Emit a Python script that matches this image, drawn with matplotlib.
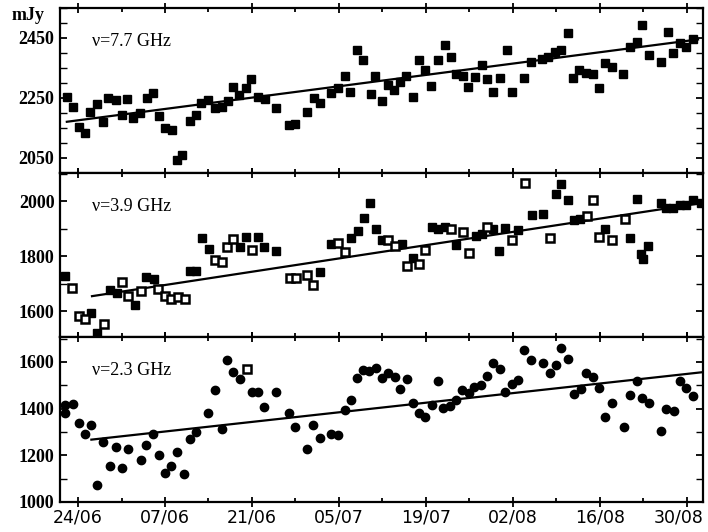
import numpy as np
import matplotlib
matplotlib.use('Agg')
import matplotlib.pyplot as plt
import matplotlib.transforms as mtransforms
from matplotlib.ticker import MultipleLocator

# days counted from 24/06
tick_days = [0, 14, 28, 42, 56, 70, 84, 98]
tick_labels = ['24/06', '07/06', '21/06', '05/07', '19/07', '02/08', '16/08', '30/08']

# 7.7 GHz
top_day = [-1.8, -0.85, 0.16, 1.13, 2.0, 3.1, 4.07, 4.9, 6.1, 7.0, 7.9, 8.9, 10.0, 11.05, 12.0,
           13.1, 14.0, 15.1, 16.0, 16.8, 18.0, 19.0, 19.8, 21.0, 22.0, 23.1, 24.2, 25.0, 25.95,
           27.0, 27.9, 29.0, 30.1, 31.9, 34.0, 34.9, 36.9, 38.0, 38.9, 40.8, 41.9, 43.0, 43.8,
           44.9, 45.9, 47.1, 47.8, 48.9, 49.9, 50.9, 51.8, 52.8, 53.9, 54.9, 55.8, 56.8, 57.9,
           59.0, 60.0, 60.9, 62.0, 62.8, 63.9, 65.0, 65.8, 66.8, 67.9, 69.0, 69.9, 71.8, 72.9,
           74.7, 75.7, 76.7, 77.7, 78.9, 79.7, 80.7, 81.8, 82.9, 83.8, 84.8, 85.9, 87.8, 88.8,
           89.9, 90.8, 91.9, 93.9, 95.0, 95.8, 96.9, 97.9, 99.0]
top_flux = [2254, 2221, 2154, 2132, 2201, 2230, 2168, 2249, 2243, 2193, 2246, 2182, 2199, 2249, 2266,
            2188, 2149, 2143, 2043, 2060, 2171, 2193, 2232, 2243, 2216, 2221, 2238, 2286, 2260,
            2282, 2312, 2252, 2246, 2216, 2160, 2162, 2204, 2249, 2232, 2266, 2282, 2323, 2271,
            2410, 2377, 2263, 2323, 2238, 2293, 2277, 2304, 2323, 2254, 2377, 2343, 2290, 2377,
            2427, 2388, 2330, 2323, 2286, 2319, 2360, 2312, 2271, 2316, 2410, 2271, 2316, 2371,
            2379, 2386, 2404, 2410, 2466, 2316, 2343, 2334, 2330, 2282, 2366, 2354, 2330, 2421,
            2438, 2493, 2393, 2371, 2471, 2401, 2434, 2421, 2446]
top_fit_day = [-1.8, 99.8]
top_fit_flux = [2170, 2445]

# 3.9 GHz
mid_day = [-2.04, 2.15, 3.1, 5.1, 6.2, 9.1, 11.0, 12.2, 18.1, 19.0, 19.95, 21.1, 26.0, 27.0, 29.0,
           30.0, 31.8, 38.9, 40.8, 43.9, 45.0, 46.0, 47.0, 47.9, 49.0, 52.1, 53.9, 56.9, 58.0,
           59.1, 60.9, 64.0, 65.0, 66.8, 67.7, 68.8, 70.9, 73.0, 74.9, 76.9, 77.8, 78.9, 79.9,
           80.8, 84.9, 88.8, 89.9, 90.7, 91.0, 91.8, 93.9, 94.7, 95.8, 96.9, 97.9, 99.0, 100.3]
mid_flux = [1728, 1595, 1520, 1677, 1665, 1622, 1726, 1716, 1747, 1747, 1868, 1828, 1835, 1870, 1870,
            1835, 1821, 1743, 1844, 1868, 1892, 1941, 1993, 1901, 1858, 1844, 1795, 1908, 1901,
            1908, 1840, 1874, 1880, 1898, 1819, 1904, 1896, 1950, 1955, 2028, 2065, 2004, 1932,
            1937, 1898, 1868, 2010, 1810, 1790, 1837, 1995, 1977, 1975, 1989, 1989, 2007, 1995]
mid_open_day = [-0.97, 0.1, 1.07, 4.2, 7.1, 8.0, 10.1, 12.9, 13.95, 15.0, 16.1, 17.2, 22.0, 23.1,
                24.0, 24.9, 28.05, 34.1, 35.1, 36.9, 37.9, 41.9, 43.0, 49.9, 51.0, 52.9, 54.9,
                55.9, 60.0, 61.9, 63.0, 65.9, 69.9, 71.9, 75.95, 81.9, 82.95, 83.9, 85.9, 88.0]
mid_open_flux = [1684, 1583, 1573, 1553, 1707, 1656, 1674, 1680, 1656, 1644, 1652, 1644, 1787, 1779,
                 1835, 1864, 1823, 1722, 1722, 1731, 1696, 1850, 1816, 1858, 1837, 1765, 1771,
                 1825, 1898, 1888, 1811, 1908, 1859, 2068, 1868, 1947, 2007, 1870, 1858, 1935]
mid_fit_day = [2.25, 100.6]
mid_fit_flux = [1655, 1995]

# 2.3 GHz
low_day = [-2.04, -2.1, -0.8, 0.1, 1.07, 2.04, 3.1, 4.1, 5.1, 6.07, 7.08, 8.05, 10.1, 11.0, 12.1,
           13.0, 13.95, 15.0, 16.0, 17.05, 18.0, 19.0, 21.0, 22.0, 23.1, 24.0, 24.9, 26.0, 28.0,
           29.0, 30.0, 31.9, 34.0, 34.9, 36.9, 37.9, 38.96, 40.8, 41.9, 43.0, 43.9, 44.9, 45.9,
           46.9, 48.0, 49.0, 49.9, 51.0, 51.9, 52.9, 54.0, 54.9, 55.8, 56.9, 58.0, 58.8, 59.9,
           60.9, 61.8, 62.9, 63.7, 64.8, 65.8, 66.8, 67.9, 68.8, 69.8, 70.9, 71.8, 72.9, 74.9,
           75.95, 76.9, 77.8, 78.9, 79.9, 80.9, 81.8, 82.9, 83.9, 84.8, 85.9, 87.9, 88.8, 89.9,
           90.8, 91.9, 93.9, 94.7, 95.9, 96.9, 97.9, 99.0]
low_flux = [1416, 1382, 1419, 1338, 1291, 1328, 1074, 1257, 1155, 1235, 1146, 1227, 1181, 1245, 1291,
            1203, 1124, 1153, 1214, 1120, 1271, 1298, 1381, 1480, 1312, 1606, 1556, 1526, 1473,
            1470, 1405, 1473, 1381, 1319, 1228, 1328, 1274, 1292, 1288, 1395, 1438, 1530, 1566,
            1562, 1573, 1533, 1552, 1537, 1485, 1526, 1423, 1381, 1366, 1416, 1520, 1402, 1409,
            1438, 1480, 1466, 1494, 1499, 1541, 1594, 1570, 1470, 1505, 1523, 1651, 1606, 1594,
            1552, 1587, 1658, 1611, 1462, 1483, 1552, 1537, 1490, 1362, 1424, 1319, 1459, 1520,
            1445, 1424, 1305, 1399, 1391, 1516, 1490, 1452]
low_open_day = [27.2]
low_open_flux = [1570]
low_fit_day = [2.15, 100.6]
low_fit_flux = [1267, 1556]

fig = plt.figure(figsize=(7.08, 5.32), dpi=100)
gs = fig.add_gridspec(3, 1, left=60/708, right=703/708, top=1-8/532, bottom=1-502/532, hspace=0)
axes = [fig.add_subplot(gs[i]) for i in range(3)]

serif = 'Liberation Serif'

def style(ax, ylim, major, minor, labels_on):
    ax.set_xlim(-2.9, 100.6)
    ax.set_ylim(*ylim)
    ax.set_xticks(tick_days)
    ax.xaxis.set_minor_locator(MultipleLocator(7))
    ax.yaxis.set_major_locator(MultipleLocator(major))
    ax.yaxis.set_minor_locator(MultipleLocator(minor))
    ax.tick_params(axis='x', which='major', direction='inout', length=7, width=1.3,
                   top=True, bottom=True, labelsize=12.5, pad=1)
    ax.tick_params(axis='x', which='minor', direction='in', length=3, width=1.3, top=True, bottom=True)
    ax.tick_params(axis='y', which='major', direction='in', length=5, width=1.3,
                   left=True, right=True, labelsize=13, pad=4)
    ax.tick_params(axis='y', which='minor', direction='in', length=5, width=1.0, left=True, right=True)
    for lab in ax.get_yticklabels():
        lab.set_fontfamily(serif)
        lab.set_fontweight('bold')
    if labels_on:
        ax.set_xticklabels(tick_labels)
    else:
        ax.set_xticklabels([])
    for s in ax.spines.values():
        s.set_linewidth(1.6)

ax = axes[0]
ax.plot(top_day, top_flux, 's', color='black', markersize=5.5, zorder=3)
ax.plot(top_fit_day, top_fit_flux, '-', color='black', linewidth=1.6)
style(ax, (2000, 2550), 200, 50, False)
ax.set_yticks([2050, 2250, 2450])
for lab in ax.get_yticklabels():
    lab.set_fontfamily(serif)
    lab.set_fontweight('bold')
ax.text(0.05, 0.77, '\u03bd=7.7 GHz', transform=ax.transAxes, family=serif, fontsize=13)

ax = axes[1]
ax.plot(mid_day, mid_flux, 's', color='black', markersize=5.5, zorder=3)
ax.plot(mid_open_day, mid_open_flux, 's', markerfacecolor='white', markeredgecolor='black',
        markeredgewidth=1.8, markersize=5.2, zorder=3)
ax.plot(mid_fit_day, mid_fit_flux, '-', color='black', linewidth=1.6)
style(ax, (1505, 2105), 200, 100, False)
ax.text(0.05, 0.77, '\u03bd=3.9 GHz', transform=ax.transAxes, family=serif, fontsize=13)

ax = axes[2]
ax.plot(low_day, low_flux, 'o', color='black', markersize=6, zorder=3)
ax.plot(low_open_day, low_open_flux, 's', markerfacecolor='white', markeredgecolor='black',
        markeredgewidth=1.8, markersize=5.2, zorder=3)
ax.plot(low_fit_day, low_fit_flux, '-', color='black', linewidth=1.6)
style(ax, (1000, 1705), 200, 100, True)
ax.text(0.05, 0.77, '\u03bd=2.3 GHz', transform=ax.transAxes, family=serif, fontsize=13)
# nudge the last date label left so it stays inside the figure
last = ax.get_xticklabels()[-1]
last.set_transform(last.get_transform() + mtransforms.ScaledTranslation(-8/100, 0, fig.dpi_scale_trans))

fig.text(12/708, 1-15/532, 'mJy', family=serif, fontweight='bold', fontsize=13, va='center')

fig.savefig('out.png', dpi=100)
